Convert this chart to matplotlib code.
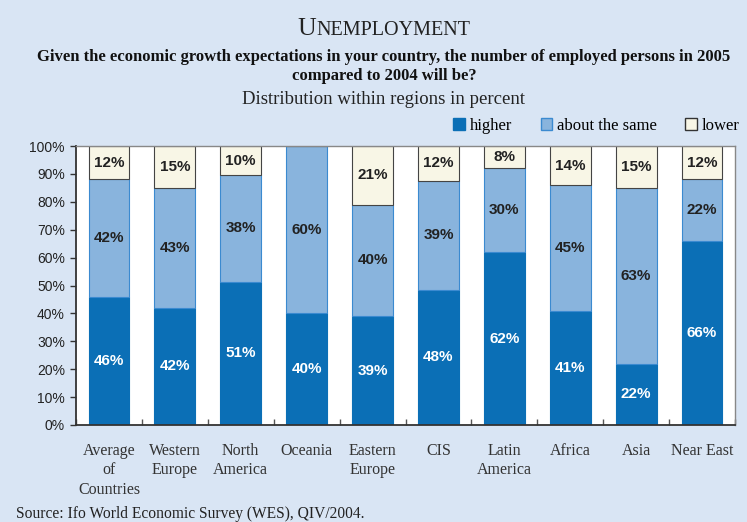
import matplotlib
matplotlib.use("Agg")
import matplotlib.pyplot as plt
from matplotlib.patches import Patch
import numpy as np

categories = ["Average\nof\nCountries", "Western\nEurope", "North\nAmerica", "Oceania",
              "Eastern\nEurope", "CIS", "Latin\nAmerica", "Africa", "Asia", "Near East"]
higher = [46, 42, 51.3, 40, 39, 48.4, 62, 41, 22, 66]
same = [42, 43, 38.3, 60, 40, 39.2, 30, 45, 63, 22]
lower = [12, 15, 10.4, 0, 21, 12.4, 8, 14, 15, 12]
series_names = ["higher", "about the same", "lower"]
yticks = [0, 10, 20, 30, 40, 50, 60, 70, 80, 90, 100]

BG = "#d9e5f4"
C_HIGH = "#0b6fb6"
C_SAME = "#89b4dd"
C_LOW = "#f8f6e6"
SERIF = "Liberation Serif"
SANS = "Liberation Sans"

fig = plt.figure(figsize=(7.47, 5.22), dpi=100, facecolor=BG)
ax = fig.add_axes([76/747, 1-425/522, (735-76)/747, (425-146)/522])
ax.set_facecolor("white")

x = np.arange(len(categories))
w = 0.62
h = np.array(higher); s = np.array(same); l = np.array(lower)
ax.bar(x, h, w, color=C_HIGH, edgecolor=C_HIGH, linewidth=0.8, zorder=2)
ax.bar(x, s, w, bottom=h, color=C_SAME, edgecolor="#3b8ad0", linewidth=0.8, zorder=2)
ax.bar(x, l, w, bottom=h+s, color=C_LOW, edgecolor="#444444", linewidth=0.8, zorder=2)

for i in range(len(x)):
    ax.text(x[i], h[i]/2, f"{round(h[i])}%", ha="center", va="center", color="white",
            fontsize=11, fontweight="bold", family=SANS, zorder=3)
    ax.text(x[i], h[i]+s[i]/2, f"{round(s[i])}%", ha="center", va="center", color="#222222",
            fontsize=11, fontweight="bold", family=SANS, zorder=3)
    if l[i] > 0:
        ax.text(x[i], h[i]+s[i]+l[i]/2, f"{round(l[i])}%", ha="center", va="center", color="#222222",
                fontsize=11, fontweight="bold", family=SANS, zorder=3)

ax.set_xlim(-0.5, len(x)-0.5)
ax.set_ylim(0, 100)
ax.set_yticks(yticks)
ax.set_yticklabels([f"{t}%" for t in yticks], family=SANS, fontsize=10, color="#222222")
ax.tick_params(axis="y", direction="out", length=4, width=1, color="#333333", pad=4)
ax.set_xticks(np.arange(len(x)+1)-0.5)
ax.set_xticklabels([])
ax.set_xticks(x, minor=True)
ax.set_xticklabels(categories, minor=True, family=SERIF, fontsize=11.5, color="#333333",
                   linespacing=1.28, va="top")
ax.tick_params(axis="x", which="major", direction="in", length=4, width=1, color="#555555")
ax.tick_params(axis="x", which="minor", length=0, pad=13)
for sp in ["left", "bottom"]:
    ax.spines[sp].set_color("#333333"); ax.spines[sp].set_linewidth(1.3)
for sp in ["top", "right"]:
    ax.spines[sp].set_color("#888888"); ax.spines[sp].set_linewidth(1.0)

handles = [Patch(facecolor=C_HIGH, edgecolor=C_HIGH),
           Patch(facecolor=C_SAME, edgecolor="#3b8ad0"),
           Patch(facecolor=C_LOW, edgecolor="#333333")]
leg = fig.legend(handles, series_names, loc="center right", bbox_to_anchor=(740/747, 1-126/522),
                 ncol=3, frameon=False, prop={"family": SERIF, "size": 12},
                 handlelength=0.7, handleheight=0.7, handletextpad=0.3, columnspacing=1.7,
                 borderpad=0, borderaxespad=0)

# Title in small caps
cx = 384/747
fig.canvas.draw()
r = fig.canvas.get_renderer()
t1 = fig.text(0, 1-35/522, "U", family=SERIF, fontsize=18.5, ha="left", va="baseline", color="#222222")
t2 = fig.text(0, 1-35/522, "NEMPLOYMENT", family=SERIF, fontsize=14.5, ha="left", va="baseline", color="#222222")
w1 = t1.get_window_extent(r).width / fig.bbox.width
w2 = t2.get_window_extent(r).width / fig.bbox.width
start = cx - (w1+w2)/2
t1.set_x(start); t2.set_x(start + w1)

fig.text(cx, 1-57/522, "Given the economic growth expectations in your country, the number of employed persons in 2005",
         family=SERIF, fontsize=12, fontweight="bold", ha="center", va="center", color="#111111")
fig.text(cx, 1-76/522, "compared to 2004 will be?", family=SERIF, fontsize=12, fontweight="bold",
         ha="center", va="center", color="#111111")
fig.text(cx, 1-99/522, "Distribution within regions in percent", family=SERIF, fontsize=13.5,
         ha="center", va="center", color="#222222")
fig.text(16/747, 1-514/522, "Source: Ifo World Economic Survey (WES), QIV/2004.", family=SERIF,
         fontsize=11.2, ha="left", va="center", color="#222222")

fig.savefig("out.png", dpi=100, facecolor=BG)
